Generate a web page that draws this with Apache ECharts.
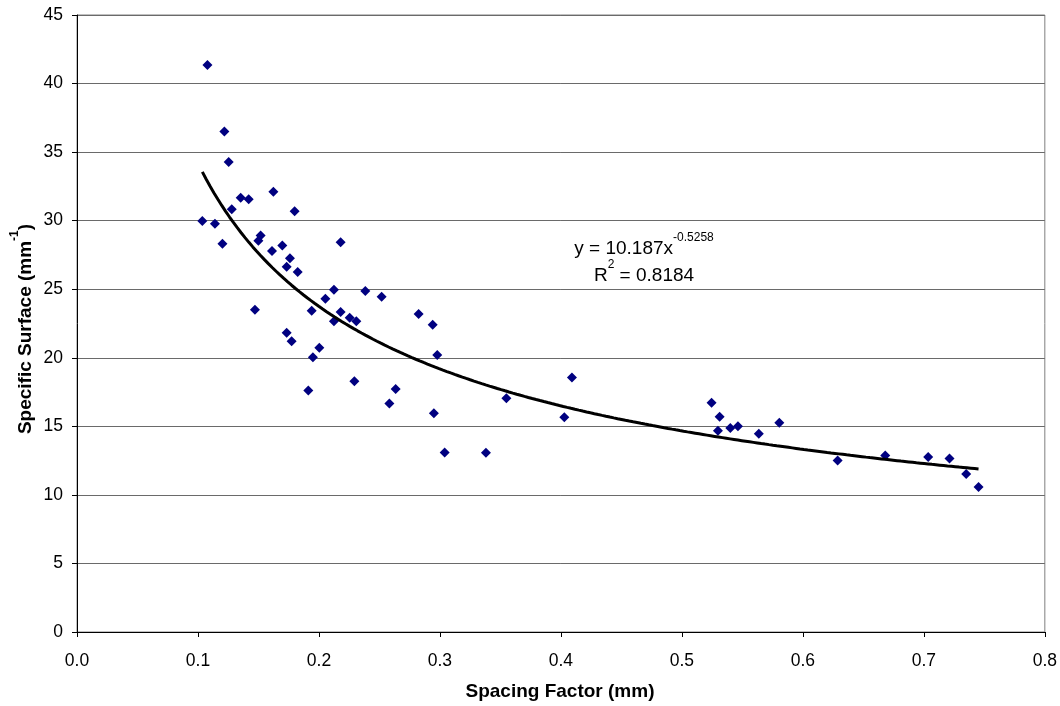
<!DOCTYPE html>
<html>
<head>
<meta charset="utf-8">
<script src="https://cdn.jsdelivr.net/npm/echarts@6/dist/echarts.min.js"></script>
<style>
html,body{margin:0;padding:0;background:#fff;}
#chart{width:1060px;height:706px;}
</style>
</head>
<body>
<div id="chart"></div>
<script>
// Spacing factor (mm)
var spacingFactor = [
  0.1078, 0.1218, 0.1254, 0.1353, 0.1419, 0.1623, 0.1279, 0.1799, 0.1036, 0.1140,
  0.1202, 0.1518, 0.1499, 0.1697, 0.2179, 0.1612, 0.1760, 0.1733, 0.1824, 0.2124,
  0.2053, 0.2383, 0.2518, 0.1471, 0.1940, 0.2179, 0.2124, 0.2254, 0.2309, 0.2824,
  0.2940, 0.1733, 0.1774, 0.2003, 0.1950, 0.2978, 0.2293, 0.1912, 0.2634, 0.2582,
  0.2950, 0.3039, 0.3549, 0.3380, 0.4091, 0.4028, 0.5245, 0.5312, 0.5298, 0.5400,
  0.5463, 0.5636, 0.5805, 0.6287, 0.6681, 0.7036, 0.7212, 0.7350, 0.7452
];
// Specific surface (mm^-1)
var specificSurface = [
  41.36, 36.50, 34.28, 31.68, 31.56, 32.10, 30.83, 30.69, 29.98, 29.78,
  28.32, 28.91, 28.54, 28.18, 28.42, 27.79, 27.26, 26.64, 26.26, 24.96,
  24.31, 24.87, 24.45, 23.50, 23.43, 23.34, 22.66, 22.92, 22.66, 23.19,
  22.41, 21.82, 21.20, 20.73, 20.03, 20.20, 18.28, 17.62, 17.72, 16.67,
  15.96, 13.09, 17.04, 13.07, 18.57, 15.67, 16.72, 15.69, 14.67, 14.87,
  15.01, 14.45, 15.26, 12.51, 12.88, 12.77, 12.65, 11.53, 10.58
];
// Power trendline shown on the chart: y = 10.187 x^-0.5258
var trendCoef = 10.187;
var trendExp = -0.5258;
var trendR2Label = '0.8184';
var xTicks = ['0.0','0.1','0.2','0.3','0.4','0.5','0.6','0.7','0.8'];

var scatterData = spacingFactor.map(function(x, i){ return [x, specificSurface[i]]; });
var xMin = Math.min.apply(null, spacingFactor);
var xMax = Math.max.apply(null, spacingFactor);
var trendData = [];
var steps = 200;
for (var i = 0; i <= steps; i++) {
  var x = xMin + (xMax - xMin) * i / steps;
  trendData.push([x, trendCoef * Math.pow(x, trendExp)]);
}

var FONT = '"Liberation Sans", Arial, Helvetica, sans-serif';
var chart = echarts.init(document.getElementById('chart'), null, {renderer: 'canvas'});
chart.setOption({
  backgroundColor: '#ffffff',
  animation: false,
  grid: {left: 77, right: 15, top: 15, bottom: 74, show: true, borderColor: '#808080', borderWidth: 1, backgroundColor: 'transparent'},
  xAxis: {
    type: 'value', min: 0, max: 0.8, interval: 0.1,
    axisLine: {show: true, onZero: false, lineStyle: {color: '#000', width: 1}},
    axisTick: {show: true, inside: false, length: 5, lineStyle: {color: '#000'}},
    splitLine: {show: false},
    axisLabel: {
      margin: 20, fontFamily: FONT, fontSize: 17.5, color: '#000',
      formatter: function(v){ var idx = Math.round(v * 10); return xTicks[idx] !== undefined ? xTicks[idx] : v.toFixed(1); }
    }
  },
  yAxis: {
    type: 'value', min: 0, max: 45, interval: 5,
    axisLine: {show: true, lineStyle: {color: '#000', width: 1}},
    axisTick: {show: true, inside: false, length: 5, lineStyle: {color: '#000'}},
    splitLine: {show: true, lineStyle: {color: '#6a6a6a', width: 1}},
    axisLabel: {margin: 14, fontFamily: FONT, fontSize: 17.5, color: '#000'}
  },
  series: [
    {
      type: 'scatter', data: scatterData, symbol: 'diamond', symbolSize: [10, 10],
      itemStyle: {color: '#000080', opacity: 1}, z: 3
    },
    {
      type: 'line', data: trendData, showSymbol: false, symbol: 'none', smooth: false,
      lineStyle: {color: '#000', width: 3}, z: 4, silent: true
    }
  ],
  graphic: [
    {
      type: 'text', x: 560, y: 692, z: 10,
      style: {text: 'Spacing Factor (mm)', fontFamily: FONT, fontSize: 19, fontWeight: 'bold', fill: '#000',
              textAlign: 'center', textVerticalAlign: 'middle'}
    },
    {
      type: 'text', x: 22, y: 329, rotation: Math.PI / 2, z: 10,
      style: {
        text: '{b|Specific Surface (mm}{s|-1}{b|)}',
        textAlign: 'center', textVerticalAlign: 'middle',
        rich: {
          b: {fontFamily: FONT, fontSize: 19, fontWeight: 'bold', fill: '#000', lineHeight: 26, verticalAlign: 'bottom'},
          s: {fontFamily: FONT, fontSize: 12, fontWeight: 'bold', fill: '#000', lineHeight: 26, verticalAlign: 'top'}
        },
        fill: '#000'
      }
    },
    {
      type: 'text', x: 644, y: 245, z: 10,
      style: {
        text: '{n|y = 10.187x}{s|-0.5258}',
        textAlign: 'center', textVerticalAlign: 'middle',
        rich: {
          n: {fontFamily: FONT, fontSize: 19, fill: '#000', lineHeight: 26, verticalAlign: 'bottom'},
          s: {fontFamily: FONT, fontSize: 12, fill: '#000', lineHeight: 26, verticalAlign: 'top'}
        }
      }
    },
    {
      type: 'text', x: 644, y: 272, z: 10,
      style: {
        text: '{n|R}{s|2}{n| = ' + trendR2Label + '}',
        textAlign: 'center', textVerticalAlign: 'middle',
        rich: {
          n: {fontFamily: FONT, fontSize: 19, fill: '#000', lineHeight: 26, verticalAlign: 'bottom'},
          s: {fontFamily: FONT, fontSize: 12, fill: '#000', lineHeight: 26, verticalAlign: 'top'}
        }
      }
    }
  ]
});
</script>
</body>
</html>
